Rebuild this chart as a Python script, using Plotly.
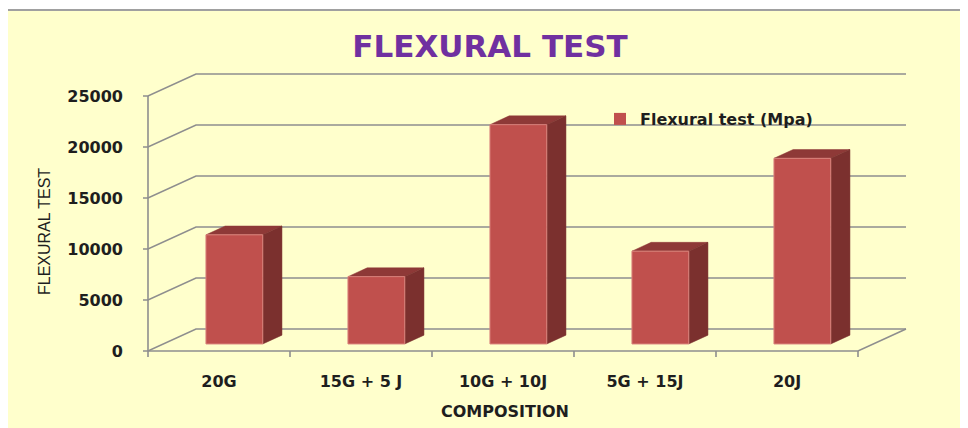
import plotly.graph_objects as go

# ---------------- data ----------------
categories = ["20G", "15G + 5 J", "10G + 10J", "5G + 15J", "20J"]
flexural = [10700, 6600, 21500, 9100, 18200]
y_ticks = [0, 5000, 10000, 15000, 20000, 25000]
series_name = "Flexural test (Mpa)"
chart_title = "FLEXURAL TEST"
x_title = "COMPOSITION"
y_title = "FLEXURAL TEST"

# ---------------- styling / geometry ----------------
W, H = 968, 428
OFF = 8                                   # page body margin compensation
L, R, T, B = 140 - OFF, 912 - OFF, 68 - OFF, 360 - OFF   # plot area in figure px
X0PX, CAT_PX = 148 - OFF, 142             # px of x=-0.5, px per category
Y0PX, PX_PER_UNIT = 351 - OFF, 51 / 5000  # px of value 0, px per unit
DX = 48 / CAT_PX                          # depth offset (x units)
DY = 22 / PX_PER_UNIT                     # depth offset (y units)
F0, F1 = 0.32, 0.72                       # bar depth fractions
HALF = 0.2                                # bar half width

FRONT, SIDE, TOP = "#C0504D", "#7B302E", "#8E3937"
GRID = "#8E8E8E"
BG = "#FFFFCC"
TXT = "#1E1E1E"

xrange_ = [-0.5 - (X0PX - L) / CAT_PX, -0.5 + (R - X0PX) / CAT_PX]
yrange_ = [-(B - Y0PX) / PX_PER_UNIT, (Y0PX - T) / PX_PER_UNIT]
n = len(categories)
x_back_end = n - 0.5 + DX
tick_dx = 5 / CAT_PX
tick_dy = 6 / PX_PER_UNIT

fig = go.Figure()

# gridlines on back wall + left wall, with y tick stubs
gx, gy = [], []
for v in y_ticks:
    gx += [-0.5 - tick_dx, -0.5, -0.5 + DX, x_back_end, None]
    gy += [v, v, v + DY, v + DY, None]
# y axis line
gx += [-0.5, -0.5, None]
gy += [y_ticks[0], y_ticks[-1], None]
# floor front edge + right slant
gx += [-0.5, n - 0.5, n - 0.5 + DX, None]
gy += [0, 0, DY, None]
# category boundary ticks
for i in range(n + 1):
    gx += [i - 0.5, i - 0.5, None]
    gy += [0, -tick_dy, None]
fig.add_trace(go.Scatter(x=gx, y=gy, mode="lines", line=dict(color=GRID, width=1.6),
                         hoverinfo="skip", showlegend=False))

# 3D bars
fx, fy, sx, sy, tx, ty = [], [], [], [], [], []
ddx, ddy = (F1 - F0) * DX, (F1 - F0) * DY
for i, v in enumerate(flexural):
    xl = i - HALF + F0 * DX
    xr = i + HALF + F0 * DX
    base = F0 * DY
    top = v + F0 * DY
    tx += [xl, xr, xr + ddx, xl + ddx, xl, None]
    ty += [top, top, top + ddy, top + ddy, top, None]
    sx += [xr, xr + ddx, xr + ddx, xr, xr, None]
    sy += [base, base + ddy, top + ddy, top, base, None]
    fx += [xl, xr, xr, xl, xl, None]
    fy += [base, base, top, top, base, None]

fig.add_trace(go.Scatter(x=tx, y=ty, mode="lines", fill="toself", fillcolor=TOP,
                         line=dict(color=TOP, width=0.5), hoverinfo="skip", showlegend=False))
fig.add_trace(go.Scatter(x=sx, y=sy, mode="lines", fill="toself", fillcolor=SIDE,
                         line=dict(color=SIDE, width=0.5), hoverinfo="skip", showlegend=False))
fig.add_trace(go.Scatter(x=fx, y=fy, mode="lines", fill="toself", fillcolor=FRONT,
                         line=dict(color="#D9827C", width=1), hoverinfo="skip", showlegend=False))

# legend entry
fig.add_trace(go.Bar(x=[None], y=[None], name=series_name, marker_color=FRONT,
                     marker_line_width=0, showlegend=True))


def px_to_paper_x(px):
    return (px - OFF - L) / (R - L)


def px_to_paper_y(py):
    return (B - (py - OFF)) / (B - T)


fig.update_layout(
    template="none",
    width=W, height=H,
    margin=dict(l=L, r=W - R, t=T, b=H - B, pad=0, autoexpand=False),
    paper_bgcolor="white",
    plot_bgcolor="rgba(0,0,0,0)",
    title=dict(text=chart_title, x=(490 - OFF) / W, xanchor="center", xref="container",
               y=1 - (46 - OFF) / H, yanchor="middle", yref="container",
               font=dict(family="DejaVu Sans", size=31, color="#7030A0", weight="bold")),
    xaxis=dict(range=xrange_, tickvals=list(range(n)), ticktext=categories,
               showgrid=False, zeroline=False, showline=False, ticks="",
               tickangle=0, automargin=False, ticklabelstandoff=10,
               tickfont=dict(family="DejaVu Sans", size=16, color=TXT, weight="bold")),
    yaxis=dict(range=yrange_, tickvals=y_ticks, ticktext=[str(v) for v in y_ticks],
               showgrid=False, zeroline=False, showline=False, ticks="",
               automargin=False, ticklabelstandoff=16,
               tickfont=dict(family="DejaVu Sans", size=16, color=TXT, weight="bold")),
    showlegend=True,
    legend=dict(x=px_to_paper_x(600), xanchor="left",
                y=px_to_paper_y(119), yanchor="middle",
                bgcolor="rgba(0,0,0,0)", borderwidth=0,
                font=dict(family="DejaVu Sans", size=16, color=TXT, weight="bold")),
    shapes=[dict(type="rect", xref="paper", yref="paper", layer="below",
                 x0=px_to_paper_x(5), x1=px_to_paper_x(990),
                 y0=px_to_paper_y(450), y1=px_to_paper_y(10),
                 fillcolor=BG, line=dict(color="#A0A0A0", width=2))],
    annotations=[
        dict(text=y_title, textangle=-90, xref="paper", yref="paper",
             x=px_to_paper_x(44), y=px_to_paper_y(232), showarrow=False,
             xanchor="center", yanchor="middle",
             font=dict(family="Liberation Sans Narrow, Liberation Sans", size=16, color=TXT)),
        dict(text=x_title, xref="paper", yref="paper",
             x=px_to_paper_x(505), y=px_to_paper_y(411), showarrow=False,
             xanchor="center", yanchor="middle",
             font=dict(family="DejaVu Sans", size=16, color=TXT, weight="bold")),
    ],
)

fig.write_html("out.html")
